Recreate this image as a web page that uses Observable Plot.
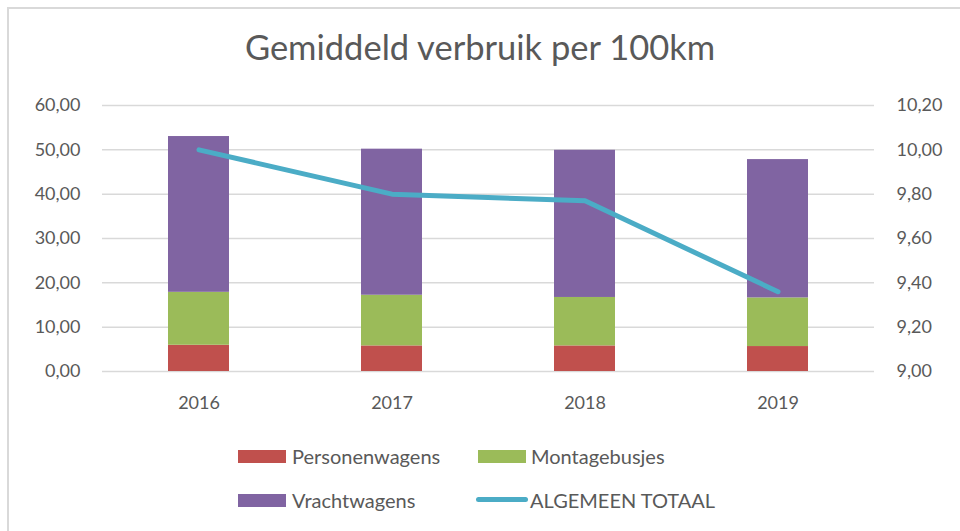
<!DOCTYPE html>
<html>
<head>
<meta charset="utf-8">
<script src="https://cdn.jsdelivr.net/npm/d3@7"></script>
<script src="https://cdn.jsdelivr.net/npm/@observablehq/plot@0.6"></script>
<style>
  html, body { margin: 0; padding: 0; background: #fff; }
  #wrap { position: relative; width: 960px; height: 531px; overflow: hidden; font-family: Lato, "Open Sans", sans-serif; color: #595959; }
  #frame { position: absolute; left: 7px; top: 7px; width: 980px; height: 540px; border-top: 2px solid #d9d9d9; border-left: 2px solid #d9d9d9; }
  #title { position: absolute; left: 0; top: 23px; width: 960px; text-align: center; font-size: 34.5px; line-height: 48px; color: #595959; }
  #chart { position: absolute; left: 0; top: 80px; }
  .leg { position: absolute; font-size: 20px; line-height: 24px; color: #595959; white-space: nowrap; }
  .sw { position: absolute; }
</style>
</head>
<body>
<div id="wrap">
  <div id="frame"></div>
  <div id="title">Gemiddeld verbruik per 100km</div>
  <div id="chart"></div>
  <div id="legend"></div>
</div>
<script>
const years = ["2016", "2017", "2018", "2019"];
const personenwagens = [5.92, 5.77, 5.77, 5.63];
const montagebusjes = [11.94, 11.43, 10.93, 10.97];
const vrachtwagens = [35.14, 32.95, 33.20, 31.20];
const algemeenTotaal = [10.00, 9.80, 9.77, 9.36];
const seriesNames = ["Personenwagens", "Montagebusjes", "Vrachtwagens"];
const lineName = "ALGEMEEN TOTAAL";
const leftTicks = [0, 10, 20, 30, 40, 50, 60];
const rightTicks = [9.0, 9.2, 9.4, 9.6, 9.8, 10.0, 10.2];
const colors = ["#c0504d", "#9bbb59", "#8064a2"];
const lineColor = "#4bacc6";

const fmt = v => v.toFixed(2).replace(".", ",");
// right axis 9.00..10.20 maps onto left axis 0..60
const rMin = 9.0, rMax = 10.2, lMax = 60;
const toLeft = v => (v - rMin) * lMax / (rMax - rMin);
const toRight = v => rMin + v * (rMax - rMin) / lMax;

const stacked = [];
const seriesValues = [personenwagens, montagebusjes, vrachtwagens];
seriesNames.forEach((s, i) => years.forEach((y, j) => stacked.push({year: y, series: s, value: seriesValues[i][j]})));
const lineData = years.map((y, j) => ({year: y, value: toLeft(algemeenTotaal[j])}));

const chart = Plot.plot({
  width: 960,
  height: 345,
  marginTop: 25,
  marginBottom: 54,
  marginLeft: 102,
  marginRight: 86,
  style: {fontFamily: "Lato, 'Open Sans', sans-serif", fontSize: "18px", color: "#595959", background: "transparent"},
  x: {domain: years, paddingInner: 0.684, paddingOuter: 0.342},
  y: {domain: [0, 60]},
  color: {domain: seriesNames, range: colors},
  marks: [
    Plot.gridY(leftTicks, {stroke: "#d9d9d9", strokeOpacity: 1, strokeWidth: 1.5}),
    Plot.barY(stacked, {x: "year", y: "value", fill: "series", order: seriesNames}),
    Plot.line(lineData, {x: "year", y: "value", stroke: lineColor, strokeWidth: 5, strokeLinecap: "round", strokeLinejoin: "round"}),
    Plot.axisX({tickSize: 0, tickPadding: 25, label: null, fill: "#595959"}),
    Plot.axisY(leftTicks, {anchor: "left", tickSize: 0, tickPadding: 22, tickFormat: fmt, label: null, fill: "#595959"}),
    Plot.axisY(rightTicks.map(toLeft), {anchor: "right", tickSize: 0, tickPadding: 22, tickFormat: v => fmt(toRight(v)), label: null, fill: "#595959"})
  ]
});
document.getElementById("chart").appendChild(chart);

// legend
const legend = document.getElementById("legend");
const items = [
  {name: seriesNames[0], color: colors[0], type: "rect", x: 238, y: 456, tx: 292},
  {name: seriesNames[1], color: colors[1], type: "rect", x: 478, y: 456, tx: 531},
  {name: seriesNames[2], color: colors[2], type: "rect", x: 238, y: 500, tx: 292},
  {name: lineName, color: lineColor, type: "line", x: 476, y: 500, tx: 530}
];
items.forEach(it => {
  const sw = document.createElement("div");
  sw.className = "sw";
  if (it.type === "rect") {
    Object.assign(sw.style, {left: it.x + "px", top: (it.y - 6) + "px", width: "48px", height: "13px", background: it.color});
  } else {
    Object.assign(sw.style, {left: it.x + "px", top: (it.y - 3) + "px", width: "52px", height: "5px", background: it.color, borderRadius: "3px"});
  }
  legend.appendChild(sw);
  const t = document.createElement("div");
  t.className = "leg";
  t.textContent = it.name;
  Object.assign(t.style, {left: it.tx + "px", top: (it.y - 12) + "px"});
  legend.appendChild(t);
});
</script>
</body>
</html>
